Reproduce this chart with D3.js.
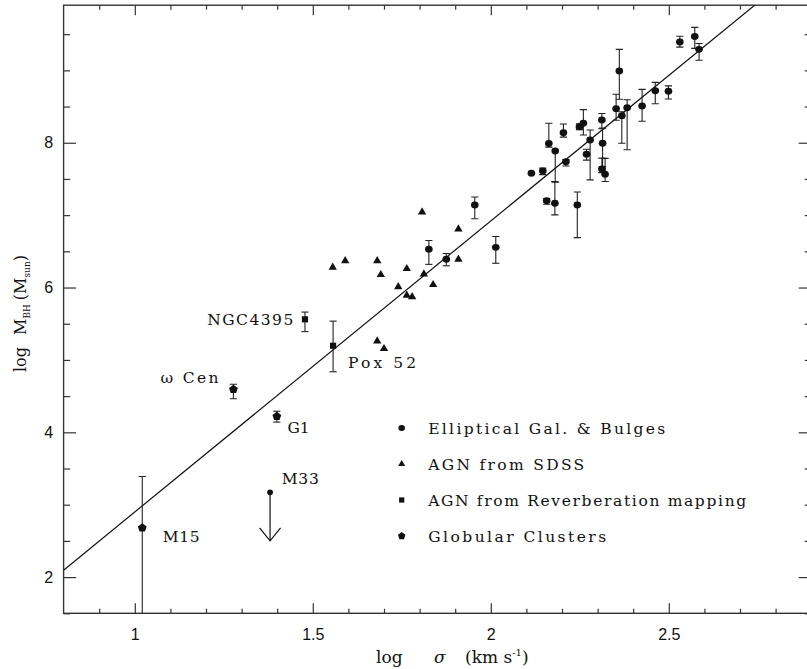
<!DOCTYPE html>
<html>
<head>
<meta charset="utf-8">
<script src="https://cdn.jsdelivr.net/npm/d3@7"></script>
<style>
  body { margin: 0; background: #fff; }
  svg { display: block; }
</style>
</head>
<body>
<svg id="chart"></svg>
<script>
// [log sigma, log M_BH, error below, error above]
const ellipticals = [
  [1.955, 7.14, 0.19, 0.11], [1.826, 6.53, 0.21, 0.12], [1.875, 6.39, 0.09, 0.08],
  [2.014, 6.555, 0.22, 0.15], [2.114, 7.58, 0, 0], [2.146, 7.61, 0.05, 0.04],
  [2.157, 7.20, 0.05, 0.03], [2.163, 7.99, 0.05, 0.28], [2.181, 7.885, 0.43, 0],
  [2.180, 7.163, 0.16, 0.30], [2.211, 7.738, 0.06, 0.03], [2.204, 8.138, 0.06, 0.12],
  [2.243, 7.14, 0.45, 0.18], [2.249, 8.221, 0.04, 0.04], [2.260, 8.268, 0.16, 0.19],
  [2.269, 7.84, 0.08, 0.07], [2.279, 8.037, 0.55, 0.14], [2.312, 8.314, 0.12, 0.09],
  [2.314, 7.992, 0.32, 0.21], [2.312, 7.637, 0.05, 0.15], [2.321, 7.564, 0.10, 0.22],
  [2.352, 8.47, 0.16, 0.20], [2.361, 8.99, 0.39, 0.30], [2.368, 8.373, 0.38, 0.055],
  [2.383, 8.484, 0.58, 0.11], [2.425, 8.507, 0.21, 0.23], [2.462, 8.719, 0.18, 0.115],
  [2.499, 8.71, 0.105, 0.075], [2.531, 9.391, 0.07, 0.08], [2.573, 9.469, 0.165, 0.125],
  [2.585, 9.29, 0.15, 0.08]
];

// [log sigma, log M_BH]
const agnSdss = [
  [1.556, 6.279], [1.591, 6.37], [1.681, 6.37], [1.691, 6.177], [1.764, 6.26],
  [1.740, 6.011], [1.764, 5.892], [1.779, 5.873], [1.812, 6.186], [1.838, 6.039],
  [1.807, 7.043], [1.909, 6.808], [1.909, 6.389], [1.681, 5.261], [1.700, 5.155]
];

// [name, log sigma, log M_BH, error below, error above]
const agnReverb = [
  ["NGC4395", 1.478, 5.561, 0.17, 0.10],
  ["Pox 52", 1.557, 5.196, 0.36, 0.34]
];

const globulars = [
  ["M15", 1.021, 2.68, 1.5, 0.71],
  ["\u03c9 Cen", 1.277, 4.594, 0.13, 0.07],
  ["G1", 1.399, 4.221, 0.08, 0.07]
];

// [name, log sigma, log M_BH, arrow drawn down to]
const upperLimits = [["M33", 1.380, 3.171, 2.5]];

// M-sigma relation: log M = norm + slope * (log sigma - log 200)
const fitNorm = 8.13, fitSlope = 4.02, fitPivot = 200;

const legendLabels = ["Elliptical Gal. & Bulges", "AGN from SDSS",
                      "AGN from Reverberation mapping", "Globular Clusters"];
const xMajorTicks = [1, 1.5, 2, 2.5];
const yMajorTicks = [2, 4, 6, 8];

// --- layout ---
const width = 807, height = 669;
const plot = { left: 63.6, right: 811.2, top: 5.2, bottom: 613.3 };
const serif = "'DejaVu Serif', 'Liberation Serif', serif";
const sans = "'Liberation Sans', Arial, sans-serif";
const ink = "#111";

// label placement relative to its point (px) and its printed width
const labelStyle = {
  "NGC4395": { dx: -11.7, dy: 5.7, anchor: "end", len: 86 },
  "Pox 52": { dx: 15, dy: 22, anchor: "start", len: 68 },
  "\u03c9 Cen": { dx: -15, dy: -6.6, anchor: "end", len: 58 },
  "G1": { dx: 10.7, dy: 16.7, anchor: "start", len: 22 },
  "M33": { dx: 11.7, dy: -8.3, anchor: "start", len: 37 },
  "M15": { dx: 20.4, dy: 14.3, anchor: "start", len: 37 }
};
const legendLens = [237, 156, 318, 178];

const svg = d3.select("#chart").attr("width", width).attr("height", height)
  .style("background", "#fff");

const x = d3.scaleLinear().domain([0.8, 2.9]).range([plot.left, plot.right]);
const y = d3.scaleLinear().domain([1.5, 9.9]).range([plot.bottom, plot.top]);

svg.append("defs").append("clipPath").attr("id", "clip")
  .append("rect")
  .attr("x", plot.left).attr("y", plot.top)
  .attr("width", plot.right - plot.left).attr("height", plot.bottom - plot.top);

// --- axes (ticks point inward on all four sides) ---
const xMinor = d3.range(9, 30).map(d => d / 10).filter(v => !xMajorTicks.some(m => Math.abs(m - v) < 1e-6));
const yMinor = d3.range(3, 20).map(d => d / 2).filter(v => v % 2 !== 0);

function styleAxis(g) {
  g.select(".domain").remove();
  g.selectAll("line").attr("stroke", "#333").attr("stroke-width", 1.2);
}

svg.append("g").attr("transform", `translate(0,${plot.bottom})`)
  .call(d3.axisBottom(x).tickValues(xMajorTicks).tickSize(-10).tickPadding(15.5)
    .tickFormat(d3.format("")))
  .call(styleAxis)
  .selectAll("text").attr("font-family", sans).attr("font-size", 16).attr("fill", ink);
svg.append("g").attr("transform", `translate(0,${plot.bottom})`)
  .call(d3.axisBottom(x).tickValues(xMinor).tickSize(-4.5).tickFormat(""))
  .call(styleAxis);
svg.append("g").attr("transform", `translate(0,${plot.top})`)
  .call(d3.axisTop(x).tickValues(xMajorTicks).tickSize(-10).tickFormat(""))
  .call(styleAxis);
svg.append("g").attr("transform", `translate(0,${plot.top})`)
  .call(d3.axisTop(x).tickValues(xMinor).tickSize(-4.5).tickFormat(""))
  .call(styleAxis);

svg.append("g").attr("transform", `translate(${plot.left},0)`)
  .call(d3.axisLeft(y).tickValues(yMajorTicks).tickSize(-12.5).tickPadding(10.5))
  .call(styleAxis)
  .selectAll("text").attr("font-family", sans).attr("font-size", 16).attr("fill", ink);
svg.append("g").attr("transform", `translate(${plot.left},0)`)
  .call(d3.axisLeft(y).tickValues(yMinor).tickSize(-6.5).tickFormat(""))
  .call(styleAxis);
svg.append("g").attr("transform", `translate(${plot.right},0)`)
  .call(d3.axisRight(y).tickValues(yMajorTicks).tickSize(-12.5).tickFormat(""))
  .call(styleAxis);
svg.append("g").attr("transform", `translate(${plot.right},0)`)
  .call(d3.axisRight(y).tickValues(yMinor).tickSize(-6.5).tickFormat(""))
  .call(styleAxis);

svg.append("rect")
  .attr("x", plot.left).attr("y", plot.top)
  .attr("width", plot.right - plot.left).attr("height", plot.bottom - plot.top)
  .attr("fill", "none").attr("stroke", "#333").attr("stroke-width", 1.4);

// --- axis titles ---
const xt = svg.append("g").attr("font-family", serif).attr("font-size", 17).attr("fill", ink);
xt.append("text").attr("x", 376).attr("y", 663).text("log");
xt.append("text").attr("x", 434).attr("y", 663).attr("font-style", "italic").text("\u03c3");
const xUnit = xt.append("text").attr("x", 465).attr("y", 663);
xUnit.append("tspan").text("(km s");
xUnit.append("tspan").attr("font-size", 10).attr("dy", -7).text("-1");
xUnit.append("tspan").attr("dy", 7).text(")");

const yt = svg.append("text").attr("font-family", serif).attr("font-size", 16).attr("fill", ink)
  .attr("transform", "translate(26,372) rotate(-90)");
yt.append("tspan").text("log");
yt.append("tspan").attr("dx", 12).text("M");
yt.append("tspan").attr("font-size", 9).attr("dy", 4).text("BH");
yt.append("tspan").attr("dy", -4).attr("dx", 4).text("(M");
yt.append("tspan").attr("font-size", 9).attr("dy", 4).text("sun");
yt.append("tspan").attr("dy", -4).text(")");

// --- fit line ---
const plotArea = svg.append("g").attr("clip-path", "url(#clip)");
const fitX = x.domain();
plotArea.append("line")
  .attr("x1", x(fitX[0])).attr("y1", y(fitNorm + fitSlope * (fitX[0] - Math.log10(fitPivot))))
  .attr("x2", x(fitX[1])).attr("y2", y(fitNorm + fitSlope * (fitX[1] - Math.log10(fitPivot))))
  .attr("stroke", ink).attr("stroke-width", 1.2);

// --- error bars ---
function errorBars(rows, xi, yi, loi, hii) {
  const capW = 3.6;
  rows.forEach(r => {
    const cx = x(r[xi]);
    [[r[loi], -1], [r[hii], 1]].forEach(([e, s]) => {
      if (!e) return;
      const end = y(r[yi] + s * e);
      plotArea.append("line").attr("x1", cx).attr("x2", cx)
        .attr("y1", y(r[yi])).attr("y2", end)
        .attr("stroke", "#222").attr("stroke-width", 1.1);
      plotArea.append("line").attr("x1", cx - capW).attr("x2", cx + capW)
        .attr("y1", end).attr("y2", end)
        .attr("stroke", "#222").attr("stroke-width", 1.1);
    });
  });
}
errorBars(ellipticals, 0, 1, 2, 3);
errorBars(agnReverb, 1, 2, 3, 4);
errorBars(globulars, 1, 2, 3, 4);

// --- markers ---
const circleSym = d3.symbol().type(d3.symbolCircle).size(38)();
const triSym = d3.symbol().type(d3.symbolTriangle).size(30)();
const squareSym = d3.symbol().type(d3.symbolSquare).size(38)();
const pentSym = d3.line()(d3.range(5).map(k => {
  const a = -Math.PI / 2 + k * 2 * Math.PI / 5;
  return [4.6 * Math.cos(a), 4.6 * Math.sin(a)];
})) + "Z";

plotArea.selectAll(".ell").data(ellipticals).join("path").attr("class", "ell")
  .attr("d", circleSym).attr("fill", ink)
  .attr("transform", d => `translate(${x(d[0])},${y(d[1])}) scale(1.1,1)`);
plotArea.selectAll(".sdss").data(agnSdss).join("path").attr("class", "sdss")
  .attr("d", triSym).attr("fill", ink)
  .attr("transform", d => `translate(${x(d[0])},${y(d[1])})`);
plotArea.selectAll(".rev").data(agnReverb).join("path").attr("class", "rev")
  .attr("d", squareSym).attr("fill", ink)
  .attr("transform", d => `translate(${x(d[1])},${y(d[2])})`);
plotArea.selectAll(".gc").data(globulars).join("path").attr("class", "gc")
  .attr("d", pentSym).attr("fill", ink)
  .attr("transform", d => `translate(${x(d[1])},${y(d[2])})`);

// upper limit (M33)
upperLimits.forEach(d => {
  const cx = x(d[1]), tip = y(d[3]);
  plotArea.append("path").attr("d", d3.symbol().type(d3.symbolCircle).size(26)())
    .attr("fill", ink).attr("transform", `translate(${cx},${y(d[2])})`);
  plotArea.append("line").attr("x1", cx).attr("x2", cx).attr("y1", y(d[2])).attr("y2", tip)
    .attr("stroke", ink).attr("stroke-width", 1.2);
  plotArea.append("path").attr("d", `M${cx - 10.5},${tip - 13}L${cx},${tip}L${cx + 10.5},${tip - 13}`)
    .attr("fill", "none").attr("stroke", ink).attr("stroke-width", 1.2);
});

// --- point labels ---
const named = agnReverb.concat(globulars).concat(upperLimits);
named.forEach(d => {
  const st = labelStyle[d[0]];
  svg.append("text")
    .attr("x", x(d[1]) + st.dx).attr("y", y(d[2]) + st.dy)
    .attr("text-anchor", st.anchor)
    .attr("textLength", st.len).attr("lengthAdjust", "spacing")
    .attr("font-family", serif).attr("font-size", 15.5).attr("fill", ink)
    .text(d[0]);
});

// --- legend ---
const legendSyms = [circleSym, triSym, squareSym, pentSym];
const legend = svg.append("g").attr("transform", "translate(401.7,428)");
legendLabels.forEach((label, i) => {
  const row = legend.append("g").attr("transform", `translate(0,${i * 36})`);
  row.append("path").attr("d", legendSyms[i]).attr("fill", ink)
    .attr("transform", i === 0 ? "scale(0.95,0.85)" : "scale(0.85)");
  row.append("text").attr("x", 26.5).attr("y", 5.5)
    .attr("textLength", legendLens[i]).attr("lengthAdjust", "spacing")
    .attr("font-family", serif).attr("font-size", 15.5).attr("fill", ink)
    .text(label);
});
</script>
</body>
</html>
